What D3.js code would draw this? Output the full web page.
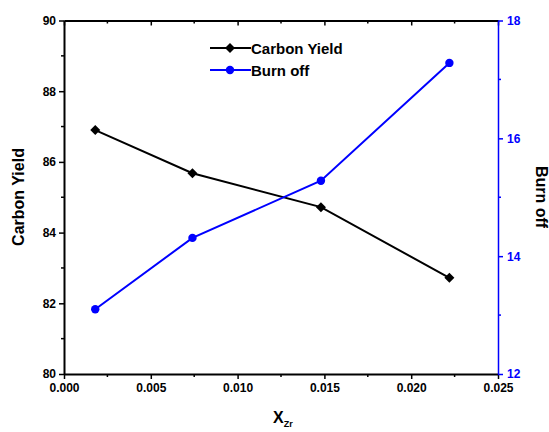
<!DOCTYPE html>
<html>
<head>
<meta charset="utf-8">
<script src="https://cdn.jsdelivr.net/npm/d3@7"></script>
<style>
  body { margin: 0; background: #fff; }
  text { font-family: Arial, "Liberation Sans", sans-serif; font-weight: bold; }
</style>
</head>
<body>
<svg id="chart" width="549" height="432"></svg>
<script>
// data
var xZr = [0.0018, 0.0074, 0.0148, 0.0222];
var carbonYield = [86.9, 85.68, 84.72, 82.72];
var burnOff = [13.1, 14.31, 15.28, 17.28];
var xTicks = [0, 0.005, 0.01, 0.015, 0.02, 0.025];
var yLeftTicks = [80, 82, 84, 86, 88, 90];
var yRightTicks = [12, 14, 16, 18];
var seriesNames = ['Carbon Yield', 'Burn off'];

var svg = d3.select('#chart');
var m = {left: 64, right: 498, top: 20.5, bottom: 374};
var blue = '#0000ff';

var x = d3.scaleLinear().domain([0, 0.025]).range([m.left, m.right]);
var yL = d3.scaleLinear().domain([80, 90]).range([m.bottom, m.top]);
var yR = d3.scaleLinear().domain([12, 18]).range([m.bottom, m.top]);

// bottom axis
var gB = svg.append('g').attr('transform', 'translate(0,' + m.bottom + ')')
    .call(d3.axisBottom(x).tickValues(xTicks).tickFormat(d3.format('.3f')).tickSize(5).tickSizeOuter(0).tickPadding(4));
gB.append('g').selectAll('line').data(d3.range(0.0025, 0.025, 0.005)).join('line')
    .attr('x1', d => x(d)).attr('x2', d => x(d)).attr('y1', 0).attr('y2', 3);

// top axis (inward ticks)
var gT = svg.append('g').attr('transform', 'translate(0,' + m.top + ')')
    .call(d3.axisTop(x).tickValues(xTicks).tickFormat('').tickSize(-5).tickSizeOuter(0));
gT.append('g').selectAll('line').data(d3.range(0.0025, 0.025, 0.005)).join('line')
    .attr('x1', d => x(d)).attr('x2', d => x(d)).attr('y1', 0).attr('y2', 3);

// left axis
var gL = svg.append('g').attr('transform', 'translate(' + m.left + ',0)')
    .call(d3.axisLeft(yL).tickValues(yLeftTicks).tickSize(5).tickSizeOuter(0).tickPadding(3));
gL.append('g').selectAll('line').data([81, 83, 85, 87, 89]).join('line')
    .attr('y1', d => yL(d)).attr('y2', d => yL(d)).attr('x1', 0).attr('x2', -3);

// right axis
var gR = svg.append('g').attr('transform', 'translate(' + m.right + ',0)')
    .call(d3.axisRight(yR).tickValues(yRightTicks).tickFormat(d3.format('d')).tickSize(5).tickSizeOuter(0).tickPadding(4));
gR.append('g').selectAll('line').data([13, 15, 17]).join('line')
    .attr('y1', d => yR(d)).attr('y2', d => yR(d)).attr('x1', 0).attr('x2', 3);

[gB, gT, gL].forEach(function(g) {
    g.select('.domain').attr('stroke', '#000').attr('stroke-width', 2);
    g.selectAll('line').attr('stroke', '#000').attr('stroke-width', 1.5);
    g.selectAll('text').attr('fill', '#000').style('font-size', '12px').style('font-weight', 'bold')
        .style('font-family', 'Arial, "Liberation Sans", sans-serif');
});
gR.select('.domain').attr('stroke', blue).attr('stroke-width', 1.5);
gR.selectAll('line').attr('stroke', blue).attr('stroke-width', 1.5);
gR.selectAll('text').attr('fill', blue).style('font-size', '12px').style('font-weight', 'bold')
    .style('font-family', 'Arial, "Liberation Sans", sans-serif');

// axis titles
svg.append('text').attr('transform', 'translate(24,197) rotate(-90)')
    .attr('text-anchor', 'middle').style('font-size', '16px').text('Carbon Yield');
svg.append('text').attr('transform', 'translate(536,197) rotate(90)')
    .attr('text-anchor', 'middle').style('font-size', '16px').text('Burn off');
var xt = svg.append('text').attr('x', 273).attr('y', 423).style('font-size', '16px');
xt.append('tspan').text('X');
xt.append('tspan').attr('dy', 4).style('font-size', '9px').text('Zr');

// series
var pts1 = xZr.map((d, i) => [x(d), yL(carbonYield[i])]);
var pts2 = xZr.map((d, i) => [x(d), yR(burnOff[i])]);
var line = d3.line();
svg.append('path').attr('d', line(pts1)).attr('fill', 'none').attr('stroke', '#000').attr('stroke-width', 2);
svg.append('path').attr('d', line(pts2)).attr('fill', 'none').attr('stroke', blue).attr('stroke-width', 2);
// square rotated 45deg gives an even diamond
var diamond = d3.symbol().type(d3.symbolSquare).size(50);
svg.append('g').selectAll('path').data(pts1).join('path')
    .attr('transform', d => 'translate(' + d[0] + ',' + d[1] + ') rotate(45)').attr('d', diamond).attr('fill', '#000');
svg.append('g').selectAll('circle').data(pts2).join('circle')
    .attr('cx', d => d[0]).attr('cy', d => d[1]).attr('r', 4.2).attr('fill', blue);

// legend
var leg = svg.append('g');
[['#000', diamond], [blue, null]].forEach(function(s, i) {
    var yy = 48 + i * 22;
    leg.append('line').attr('x1', 210).attr('x2', 251).attr('y1', yy).attr('y2', yy)
        .attr('stroke', s[0]).attr('stroke-width', 2);
    if (s[1]) leg.append('path').attr('transform', 'translate(230,' + yy + ') rotate(45)').attr('d', s[1]).attr('fill', s[0]);
    else leg.append('circle').attr('cx', 230).attr('cy', yy).attr('r', 4.2).attr('fill', s[0]);
    leg.append('text').attr('x', 251).attr('y', yy + 5.5).style('font-size', '15px').text(seriesNames[i]);
});
</script>
</body>
</html>
